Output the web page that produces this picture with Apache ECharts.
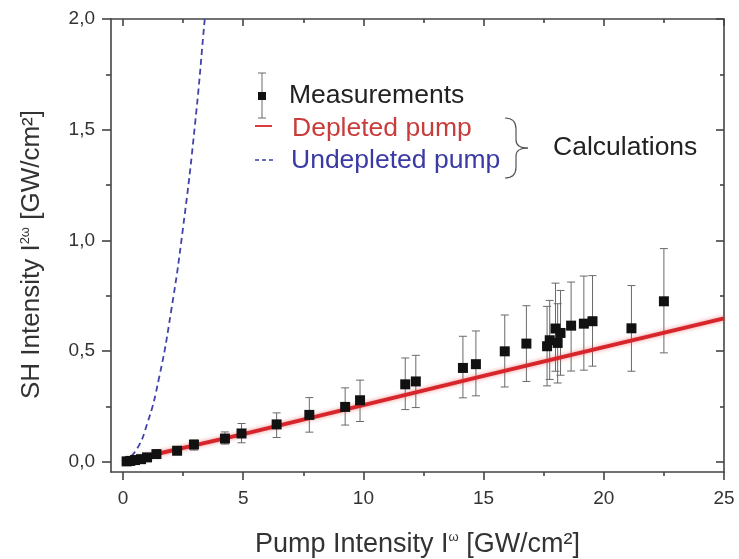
<!DOCTYPE html>
<html>
<head>
<meta charset="utf-8">
<script src="https://cdn.jsdelivr.net/npm/echarts@6/dist/echarts.min.js"></script>
<style>
  html, body { margin: 0; padding: 0; background: #fff; }
  #chart { width: 739px; height: 559px; }
</style>
</head>
<body>
<div id="chart"></div>
<script>
// tick labels
var xTicks = [0, 5, 10, 15, 20, 25];
var xMinor = [2.5, 7.5, 12.5, 17.5, 22.5];
var yTicks = [0, 0.5, 1.0, 1.5, 2.0];
var yMinor = [0.25, 0.75, 1.25, 1.75];

// measurements (x, y, lower and upper end of error bar)
var measX    = [0.15, 0.3, 0.5, 0.75, 1.0, 1.39, 2.25, 2.95, 4.24, 4.93, 6.39, 7.75, 9.24, 9.86, 11.74, 12.18, 14.14, 14.68, 15.88, 16.78, 17.64, 17.75, 17.99, 18.08, 18.2, 18.64, 19.17, 19.53, 21.15, 22.5];
var measY    = [0.002, 0.004, 0.008, 0.012, 0.02, 0.035, 0.05, 0.078, 0.105, 0.128, 0.169, 0.212, 0.248, 0.278, 0.35, 0.363, 0.424, 0.441, 0.499, 0.534, 0.522, 0.549, 0.602, 0.537, 0.582, 0.615, 0.624, 0.635, 0.603, 0.725];
var measLow  = [0.0, 0.0, 0.003, 0.006, 0.01, 0.025, 0.035, 0.053, 0.08, 0.086, 0.11, 0.134, 0.166, 0.182, 0.236, 0.245, 0.289, 0.298, 0.338, 0.363, 0.343, 0.372, 0.409, 0.356, 0.391, 0.41, 0.414, 0.432, 0.409, 0.492];
var measHigh = [0.006, 0.008, 0.013, 0.02, 0.03, 0.047, 0.065, 0.098, 0.135, 0.173, 0.221, 0.29, 0.334, 0.369, 0.469, 0.481, 0.567, 0.591, 0.663, 0.705, 0.702, 0.729, 0.807, 0.714, 0.774, 0.812, 0.839, 0.841, 0.796, 0.963];

// calculations
var depletedX   = [0, 5, 10, 15, 20, 25];
var depletedY   = [0, 0.125, 0.256, 0.388, 0.518, 0.648];
var undepletedX = [0, 0.5, 1.0, 1.5, 2.0, 2.5, 3.0, 3.4, 3.45];
var undepletedY = [0, 0.045, 0.17, 0.38, 0.68, 1.06, 1.53, 2.0, 2.06];

var FONT = 'Liberation Sans, Arial, sans-serif';
var AX = '#444';
var TXT = '#333';

function zip(a, b) { return a.map(function (v, i) { return [v, b[i]]; }); }
var points = zip(measX, measY);
var bars = measX.map(function (v, i) { return [v, measLow[i], measHigh[i]]; });

function yFmt(v) { return v.toFixed(1).replace('.', ','); }

function xAxisDef(pos, ticks, len, inside, main) {
  return {
    type: 'value', position: pos, min: -0.5, max: 25,
    axisLine: { show: main, onZero: false, lineStyle: { color: AX, width: 1.6 } },
    axisTick: { show: true, customValues: ticks, length: len, inside: inside, lineStyle: { color: AX, width: 1.6 } },
    axisLabel: { show: false },
    splitLine: { show: false }
  };
}
function yAxisDef(pos, ticks, len, inside, main) {
  return {
    type: 'value', position: pos, min: -0.046, max: 2.0,
    axisLine: { show: main, onZero: false, lineStyle: { color: AX, width: 1.6 } },
    axisTick: { show: true, customValues: ticks, length: len, inside: inside, lineStyle: { color: AX, width: 1.6 } },
    axisLabel: { show: false },
    splitLine: { show: false }
  };
}

var xMain = xAxisDef('bottom', xTicks, 8, false, true);
xMain.axisLabel = { show: true, customValues: xTicks, margin: 17, color: TXT, fontSize: 19, fontFamily: FONT };
xMain.name = 'Pump Intensity I{sup|ω} [GW/cm²]';
xMain.nameLocation = 'middle';
xMain.nameGap = 59;
xMain.nameTextStyle = { color: TXT, fontSize: 27, fontFamily: FONT,
  rich: { sup: { fontSize: 13, verticalAlign: 'top', padding: [0, 0, 13, 0], color: TXT, fontFamily: FONT } } };

var yMain = yAxisDef('left', yTicks, 9, false, true);
yMain.axisLabel = { show: true, customValues: yTicks, margin: 16, color: TXT, fontSize: 19, fontFamily: FONT, formatter: yFmt };
yMain.name = 'SH Intensity I{sup|2ω} [GW/cm²]';
yMain.nameLocation = 'middle';
yMain.nameRotate = 90;
yMain.nameGap = 66;
yMain.nameTextStyle = { color: TXT, fontSize: 26, fontFamily: FONT, padding: [0, 18, 0, 0],
  rich: { sup: { fontSize: 13, verticalAlign: 'top', padding: [0, 0, 12, 0], color: TXT, fontFamily: FONT } } };

var braceStyle = { stroke: '#555', lineWidth: 1.2, fill: null };

var chart = echarts.init(document.getElementById('chart'));
var option = {
  backgroundColor: '#fff',
  animation: false,
  grid: { left: 111, right: 15, top: 19, bottom: 87, outerBoundsMode: 'none', containLabel: false },
  xAxis: [
    xMain,
    xAxisDef('bottom', xMinor, 4, false, false),
    xAxisDef('top', xTicks, 7, true, true),
    xAxisDef('top', xMinor, 4, true, false)
  ],
  yAxis: [
    yMain,
    yAxisDef('left', yMinor, 5, false, false),
    yAxisDef('right', yTicks, 8, true, true),
    yAxisDef('right', yMinor, 4, true, false)
  ],
  series: [
    {
      name: 'Undepleted pump', type: 'line', smooth: true, showSymbol: false,
      data: zip(undepletedX, undepletedY),
      lineStyle: { color: '#4143aa', width: 1.8, type: [6, 4] }, z: 2
    },
    {
      type: 'custom', name: 'errors',
      data: bars,
      encode: { x: 0, y: [1, 2] },
      renderItem: function (params, api) {
        var x = api.value(0);
        var top = api.coord([x, api.value(2)]);
        var bot = api.coord([x, api.value(1)]);
        var w = 4;
        var st = { stroke: '#6a6a6a', lineWidth: 1 };
        return {
          type: 'group', children: [
            { type: 'line', shape: { x1: top[0], y1: top[1], x2: bot[0], y2: bot[1] }, style: st },
            { type: 'line', shape: { x1: top[0] - w, y1: top[1], x2: top[0] + w, y2: top[1] }, style: st },
            { type: 'line', shape: { x1: bot[0] - w, y1: bot[1], x2: bot[0] + w, y2: bot[1] }, style: st }
          ]
        };
      },
      z: 3
    },
    {
      name: 'Depleted pump', type: 'line', showSymbol: false,
      data: zip(depletedX, depletedY),
      lineStyle: { color: '#d6262b', width: 4, shadowBlur: 4, shadowColor: 'rgba(230,70,70,0.6)' }, z: 4
    },
    {
      name: 'Measurements', type: 'scatter', symbol: 'rect', symbolSize: 10,
      data: points,
      itemStyle: { color: '#111', opacity: 1 }, z: 5
    }
  ],
  graphic: [
    // measurements symbol
    { type: 'line', shape: { x1: 262, y1: 73, x2: 262, y2: 118 }, style: { stroke: '#6a6a6a', lineWidth: 1 } },
    { type: 'line', shape: { x1: 258, y1: 73, x2: 266, y2: 73 }, style: { stroke: '#6a6a6a', lineWidth: 1 } },
    { type: 'line', shape: { x1: 258, y1: 118, x2: 266, y2: 118 }, style: { stroke: '#6a6a6a', lineWidth: 1 } },
    { type: 'rect', shape: { x: 258, y: 92, width: 8, height: 8 }, style: { fill: '#111' } },
    { type: 'text', x: 289, y: 96, style: { text: 'Measurements', fill: '#222', fontSize: 26.5, fontFamily: FONT, verticalAlign: 'middle' } },
    // depleted
    { type: 'line', shape: { x1: 255, y1: 126, x2: 272, y2: 126 }, style: { stroke: '#d6262b', lineWidth: 1.8 } },
    { type: 'text', x: 292, y: 129, style: { text: 'Depleted pump', fill: '#c93c3c', fontSize: 26.5, fontFamily: FONT, verticalAlign: 'middle' } },
    // undepleted
    { type: 'line', shape: { x1: 255, y1: 160, x2: 273, y2: 160 }, style: { stroke: '#3d3fa6', lineWidth: 1.5, lineDash: [4, 3] } },
    { type: 'text', x: 291, y: 161, style: { text: 'Undepleted pump', fill: '#3a3aa6', fontSize: 26.5, fontFamily: FONT, verticalAlign: 'middle' } },
    // brace
    { type: 'bezierCurve', shape: { x1: 505, y1: 118, cpx1: 516, cpy1: 118, x2: 516, y2: 129 }, style: braceStyle },
    { type: 'line', shape: { x1: 516, y1: 129, x2: 516, y2: 140 }, style: braceStyle },
    { type: 'bezierCurve', shape: { x1: 516, y1: 140, cpx1: 516, cpy1: 148, x2: 528, y2: 148 }, style: braceStyle },
    { type: 'bezierCurve', shape: { x1: 528, y1: 148, cpx1: 516, cpy1: 148, x2: 516, y2: 156 }, style: braceStyle },
    { type: 'line', shape: { x1: 516, y1: 156, x2: 516, y2: 167 }, style: braceStyle },
    { type: 'bezierCurve', shape: { x1: 516, y1: 167, cpx1: 516, cpy1: 178, x2: 505, y2: 178 }, style: braceStyle },
    { type: 'text', x: 553, y: 148, style: { text: 'Calculations', fill: '#222', fontSize: 26.5, fontFamily: FONT, verticalAlign: 'middle' } }
  ]
};
chart.setOption(option);
</script>
</body>
</html>
